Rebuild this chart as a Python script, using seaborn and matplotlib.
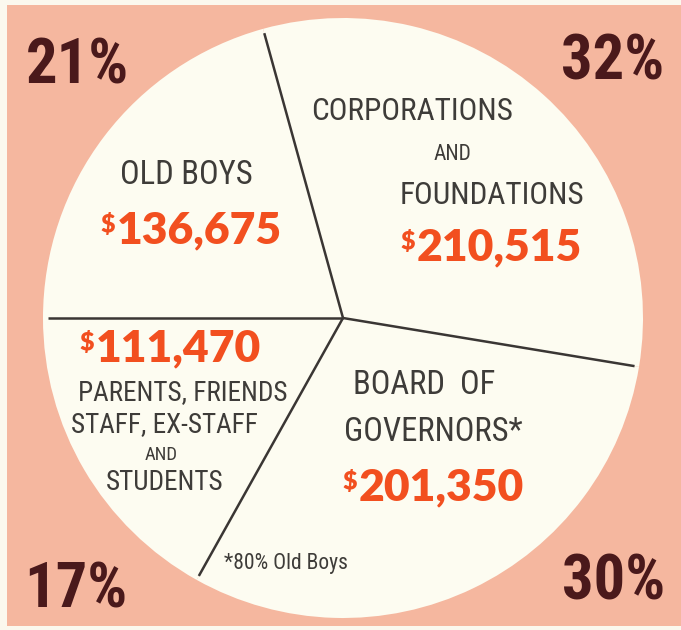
import matplotlib
matplotlib.use("Agg")
import matplotlib.pyplot as plt
from matplotlib.patches import Rectangle
import numpy as np
import seaborn as sns

# Campaign contributions by source
sources = ["OLD BOYS", "CORPORATIONS AND FOUNDATIONS", "BOARD OF GOVERNORS",
           "PARENTS, FRIENDS, STAFF, EX-STAFF AND STUDENTS"]
amounts = [136675, 210515, 201350, 111470]
amount_labels = ["136,675", "210,515", "201,350", "111,470"]
percent_labels = ["21%", "32%", "30%", "17%"]

sns.set_theme(style="white")
narrow = ["Roboto Condensed", "Open Sans Condensed", "Liberation Sans Narrow",
          "DejaVu Sans"]
plt.rcParams["font.family"] = narrow

W, H = 681, 630
fig = plt.figure(figsize=(W / 100, H / 100), dpi=100)
fig.patch.set_facecolor("#FBF8EE")
ax = fig.add_axes([0, 0, 1, 1])


def fy(y):
    """Convert a top-down pixel row into the axis' upward coordinate."""
    return H - y


cream = "#FDFCF1"
salmon = "#F5B79F"
orange = "#F24F1F"
maroon = "#4A191B"
ink = "#3E3C39"

ax.add_patch(Rectangle((7, fy(626)), W - 7, 626 - 5, facecolor=salmon,
                       edgecolor="none", zorder=0))

center = (343, fy(318))
radius = 300
wedges, _ = ax.pie(amounts, startangle=180, counterclock=False, colors=[cream] * 4,
                   center=center, radius=radius, frame=True,
                   wedgeprops=dict(linewidth=0, edgecolor="none"))

# radial dividers at each wedge boundary
for w in wedges:
    a = np.deg2rad(w.theta2)
    r = w.r * 0.985
    ax.plot([w.center[0], w.center[0] + r * np.cos(a)],
            [w.center[1], w.center[1] + r * np.sin(a)],
            color="#3A3634", lw=1.8, solid_capstyle="butt", zorder=3)

ax.set_xlim(0, W)
ax.set_ylim(0, H)
ax.set_aspect("equal")
ax.axis("off")

# percentages in the corners
pct_pos = [(78, 66), (613, 63), (614, 582), (76, 590)]
for lab, (x, y) in zip(percent_labels, pct_pos):
    ax.text(x, fy(y), lab, ha="center", va="center", fontsize=45,
            fontweight="bold", fontstretch="condensed", color=maroon, zorder=4)

# category captions
label_kw = dict(ha="center", va="center", color=ink, zorder=4,
                fontstretch="condensed")
ax.text(186, fy(175), "OLD BOYS", fontsize=23.5, **label_kw)
ax.text(412, fy(111), "CORPORATIONS", fontsize=22.5, **label_kw)
ax.text(452, fy(155), "AND", fontsize=15.5, **label_kw)
ax.text(492, fy(195), "FOUNDATIONS", fontsize=22.5, **label_kw)
ax.text(424, fy(385), "BOARD  OF", fontsize=23.5, **label_kw)
ax.text(433, fy(432), "GOVERNORS*", fontsize=23.5, **label_kw)
ax.text(183, fy(393), "PARENTS, FRIENDS", fontsize=19.5, **label_kw)
ax.text(164, fy(425), "STAFF, EX-STAFF", fontsize=19.5, **label_kw)
ax.text(161, fy(455), "AND", fontsize=13.5, **label_kw)
ax.text(165, fy(483), "STUDENTS", fontsize=19.5, **label_kw)
ax.text(286, fy(563), "*80% Old Boys", fontsize=15.5, **label_kw)

# dollar amounts
amt_pos = [(199, 230), (499, 247), (441, 487), (178, 348)]
for lab, (x, y) in zip(amount_labels, amt_pos):
    t = ax.text(x, fy(y), lab, ha="center", va="center", fontsize=32,
                fontweight="heavy", family=["Lato", "DejaVu Sans"],
                color=orange, zorder=4)
    ax.annotate("$", xy=(0, 1), xycoords=t, xytext=(-1, -2),
                textcoords="offset points", ha="right", va="top",
                fontsize=18, fontweight="heavy", family=["Lato", "DejaVu Sans"],
                color=orange, zorder=4)

fig.savefig("out.png", dpi=100, facecolor=fig.get_facecolor())
